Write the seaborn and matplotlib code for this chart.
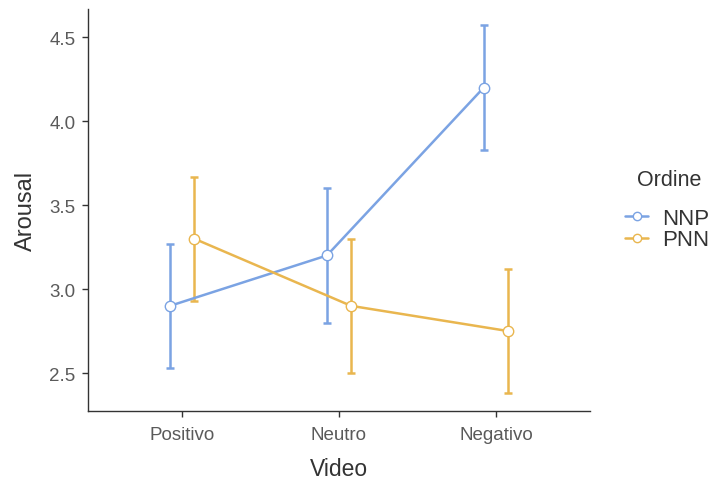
import numpy as np
import pandas as pd
import matplotlib
matplotlib.use("Agg")
import matplotlib.pyplot as plt
import seaborn as sns
from matplotlib.lines import Line2D

videos = ["Positivo", "Neutro", "Negativo"]
groups = ["NNP", "PNN"]
nnp_mean = [2.90, 3.20, 4.20]
nnp_lo = [2.53, 2.80, 3.83]
nnp_hi = [3.27, 3.60, 4.57]
pnn_mean = [3.30, 2.90, 2.75]
pnn_lo = [2.93, 2.50, 2.38]
pnn_hi = [3.67, 3.30, 3.12]
colors = {"NNP": "#7BA3E3", "PNN": "#E9B64F"}

sns.set_style("white")
plt.rcParams["font.family"] = ["Liberation Sans", "DejaVu Sans"]

fig = plt.figure(figsize=(7.13, 4.81), dpi=100)
ax = fig.add_axes([0.1234, 0.1435, 0.7041, 0.8355])

offsets = {"NNP": -0.077, "PNN": 0.077}
stats = {"NNP": (nnp_mean, nnp_lo, nnp_hi), "PNN": (pnn_mean, pnn_lo, pnn_hi)}
rows = []
for g in groups:
    m, lo, hi = stats[g]
    for i, v in enumerate(videos):
        rows.append({"Video": v, "pos": i + offsets[g], "Ordine": g,
                     "Arousal": m[i], "lo": lo[i], "hi": hi[i]})
df = pd.DataFrame(rows)

# lines + open markers
sns.lineplot(data=df, x="pos", y="Arousal", hue="Ordine", palette=colors,
             marker="o", markersize=7.5, markerfacecolor="white",
             markeredgewidth=1.0, linewidth=1.8, ax=ax, legend=False,
             zorder=3)
for line in ax.lines:
    line.set_markeredgecolor(line.get_color())

# confidence intervals
for g in groups:
    d = df[df["Ordine"] == g]
    ax.errorbar(d["pos"], d["Arousal"],
                yerr=[d["Arousal"] - d["lo"], d["hi"] - d["Arousal"]],
                fmt="none", ecolor=colors[g], elinewidth=1.8, capsize=2.8,
                capthick=1.8, zorder=2)

ax.set_xlim(-0.6, 2.6)
ax.set_ylim(2.274, 4.667)
ax.set_xticks(range(len(videos)))
ax.set_xticklabels(videos)
ax.set_yticks([2.5, 3.0, 3.5, 4.0, 4.5])
ax.set_yticklabels(["2.5", "3.0", "3.5", "4.0", "4.5"])
ax.set_xlabel("Video", fontsize=16.5, color="#333333", labelpad=10)
ax.set_ylabel("Arousal", fontsize=17, color="#333333", labelpad=9)
ax.tick_params(axis="both", labelsize=13.5, labelcolor="#5a5a5a",
               length=4, width=1, color="#333333", direction="out",
               bottom=True, left=True)
ax.tick_params(axis="x", pad=7)
ax.tick_params(axis="y", pad=5)
for side in ["top", "right"]:
    ax.spines[side].set_visible(False)
for side in ["left", "bottom"]:
    ax.spines[side].set_color("#333333")
    ax.spines[side].set_linewidth(1.0)

# legend: title as separate text, entries below
fig.text(669 / 713, 1 - 180 / 481, "Ordine", fontsize=15.5, color="#333333",
         ha="center", va="center")
handles = [Line2D([0], [0], color=colors[g], marker="o", markersize=6,
                  markerfacecolor="white", markeredgecolor=colors[g],
                  linewidth=1.8) for g in groups]
leg = fig.legend(handles, groups, loc="upper left",
                 bbox_to_anchor=(625 / 713, 1 - 209 / 481), frameon=False,
                 fontsize=16, handlelength=1.05, handletextpad=0.6,
                 labelspacing=0.02, borderpad=0, borderaxespad=0)
for t in leg.get_texts():
    t.set_color("#333333")

fig.savefig("out.png", dpi=100)
